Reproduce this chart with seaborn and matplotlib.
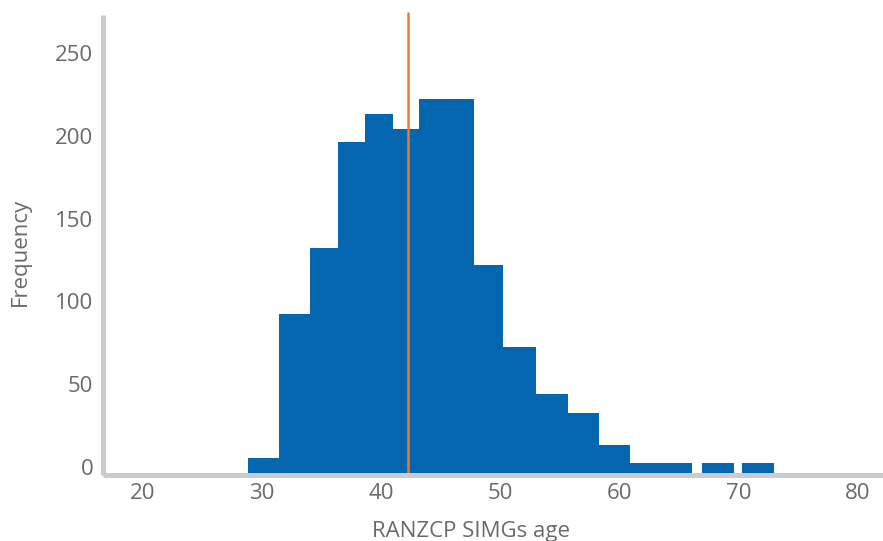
import numpy as np
import pandas as pd
import matplotlib
matplotlib.use("Agg")
import matplotlib.pyplot as plt
import matplotlib.transforms as mtransforms
import seaborn as sns

# bin edges (age) and counts
bin_edges = [28.9, 31.5, 34.1, 36.4, 38.7, 41.0, 43.2, 45.6, 47.8, 50.2, 53.0,
             55.7, 58.3, 60.9, 63.5, 66.1, 66.9, 69.6, 70.3, 73.0]
counts = [10, 97, 137, 201, 218, 209, 227, 227, 127, 77, 49, 37, 18, 7, 7, 0, 7, 0, 7]
mean_age = 42.3
x_ticks = [20, 30, 40, 50, 60, 70, 80]
y_ticks = [0, 50, 100, 150, 200, 250]

bar_color = "#0466ae"
line_color = "#f47920"
axis_color = "#cbcbcb"
text_color = "#6a6a6a"

sns.set_style("white")
plt.rcParams['font.family'] = ['Open Sans', 'DejaVu Sans']

centers = [(a + b) / 2 for a, b in zip(bin_edges[:-1], bin_edges[1:])]
df = pd.DataFrame({"age": centers, "n": counts})

fig = plt.figure(figsize=(8.83, 5.41), dpi=100)
ax = fig.add_axes([0.1166, 0.1229, 0.8834, 0.849])

sns.histplot(data=df, x="age", weights="n", bins=bin_edges, color=bar_color, alpha=1,
             linewidth=0, edgecolor="none", ax=ax)
ax.axvline(mean_age, ymax=1.005, color=line_color, linewidth=1.8, clip_on=False)

ax.set_xlim(16.7, 82.1)
ax.set_ylim(0, 278)
ax.set_xticks(x_ticks)
ax.set_yticks(y_ticks)
ax.tick_params(length=0, labelsize=16, labelcolor=text_color)
ax.tick_params(axis="y", pad=7)
ax.tick_params(axis="x", pad=6)

# y labels sit a little above their values in the reference
shift = mtransforms.ScaledTranslation(0, 8 / 100, fig.dpi_scale_trans)
for lab in ax.get_yticklabels():
    lab.set_transform(lab.get_transform() + shift)

ax.set_xlabel("RANZCP SIMGs age", fontsize=16, color=text_color, labelpad=12, x=0.472)
ax.set_ylabel("Frequency", fontsize=16, color=text_color, labelpad=17, y=0.484)

sns.despine(ax=ax)
for side in ["left", "bottom"]:
    ax.spines[side].set_color(axis_color)
    ax.spines[side].set_linewidth(3.6)
    ax.spines[side].set_capstyle("butt")

fig.savefig("out.png", dpi=100)
